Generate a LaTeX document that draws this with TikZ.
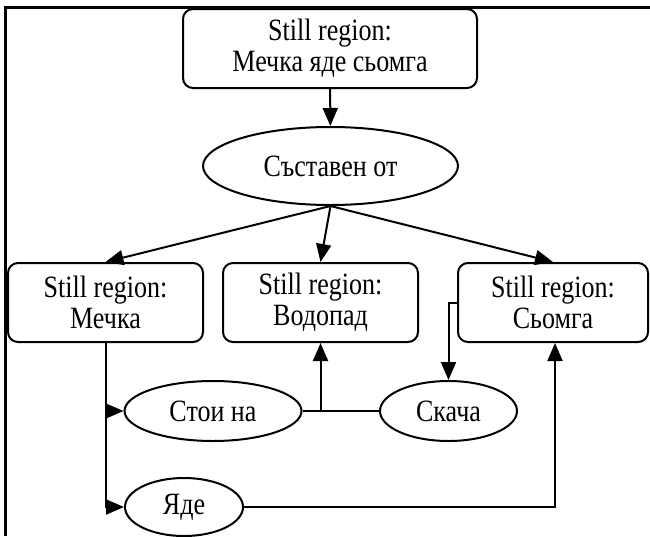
\documentclass[tikz,border=0pt]{standalone}
\usepackage{fontspec}
\setmainfont{Liberation Serif}[FakeStretch=0.84]
\usetikzlibrary{shapes.geometric,arrows.meta}

\begin{document}
\begin{tikzpicture}[x=1pt,y=-1pt,
  every node/.style={font=\fontsize{31}{31}\selectfont, inner sep=0pt},
  region/.style={draw, line width=2pt, rounded corners=10pt, rectangle,
                 minimum height=79pt, align=center},
  relation/.style={draw, line width=2pt, ellipse},
  link/.style={line width=2pt},
  arr/.style={link, -{Triangle[length=18pt,width=15pt]}}]

\useasboundingbox (0,0) rectangle (650,536);

% open frame: only top and left edges
\draw[line width=2.5pt] (650,7.3) -- (5.7,7.3) -- (5.7,536);

% nodes
\node[region, minimum width=294pt] (whole) at (330,48.5)
  {Still region:\\Мечка яде сьомга};
\node[relation, minimum width=255pt, minimum height=78pt] (comp) at (330.5,166)
  {Съставен от};
\node[region, minimum width=195pt] (bear) at (105.5,302.5)
  {Still region:\\Мечка};
\node[region, minimum width=195pt] (fall) at (320.5,302.5)
  {Still region:\\Водопад};
\node[region, minimum width=190pt] (salmon) at (553,302.5)
  {Still region:\\Сьомга};
\node[relation, minimum width=177pt, minimum height=60pt] (stands) at (213,411)
  {Стои на};
\node[relation, minimum width=137pt, minimum height=60pt] (jumps) at (448.5,411)
  {Скача};
\node[relation, minimum width=118pt, minimum height=58pt] (eats) at (184,507)
  {Яде};

% connectors
\draw[arr] (whole) -- (comp);
\draw[arr] (comp.south) -- (bear.north);
\draw[arr] (comp.south) -- (fall.north);
\draw[arr] (comp.south) -- (salmon.north);

\draw[arr] (bear.south) |- (stands.west);
\draw[arr] (bear.south) |- (eats.west);

\coordinate (join) at (fall.south |- stands.east);
\draw[arr] (stands.east) -| (fall.south);
\draw[link] (jumps.west) -- (join);

\draw[arr] (salmon.west) -| (jumps.north);
\draw[arr] (eats.east) -| ([xshift=2pt]salmon.south);
\end{tikzpicture}
\end{document}
